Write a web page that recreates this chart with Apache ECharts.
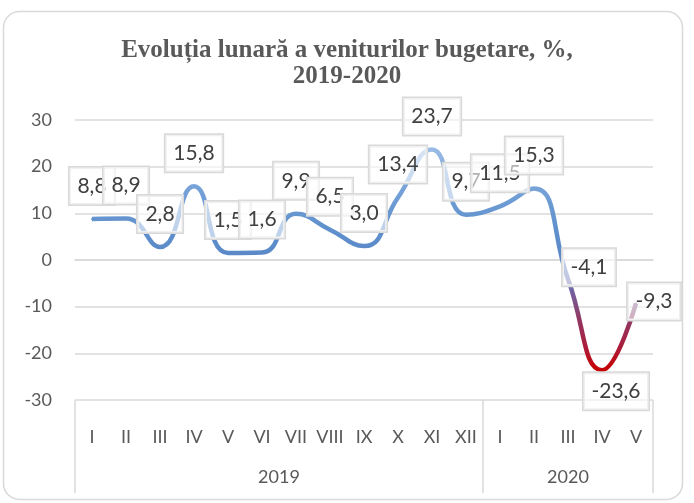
<!DOCTYPE html>
<html>
<head>
<meta charset="utf-8">
<script src="https://cdn.jsdelivr.net/npm/echarts@6/dist/echarts.min.js"></script>
<style>
html,body{margin:0;padding:0;background:#fff;}
#c{width:694px;height:503px;}
</style>
</head>
<body>
<div id="c"></div>
<script>
const titleText = 'Evoluția lunară a veniturilor bugetare, %,\n2019-2020';
const months = ['I','II','III','IV','V','VI','VII','VIII','IX','X','XI','XII','I','II','III','IV','V'];
const values = [8.8, 8.9, 2.8, 15.8, 1.5, 1.6, 9.9, 6.5, 3.0, 13.4, 23.7, 9.7, 11.5, 15.3, -4.1, -23.6, -9.3];
const years = ['2019', '2020'];
const monthsPerYear = [12, 5];
const yTicks = { min: -30, max: 30, interval: 10 };

// year boundaries and centres on a 0..N value scale
const yearBounds = [0];
monthsPerYear.forEach(n => yearBounds.push(yearBounds[yearBounds.length - 1] + n));
const yearCentres = years.map((y, i) => (yearBounds[i] + yearBounds[i + 1]) / 2);

// label offsets (styling only)
const defaultOffset = [0, -33];
const specialOffsets = { 14: [21, -12], 15: [14, 21], 16: [18, -2] };

const chart = echarts.init(document.getElementById('c'), null, { renderer: 'canvas' });
const gridColor = '#d9d9d9';
const textColor = '#595959';

chart.setOption({
  backgroundColor: '#ffffff',
  animation: false,
  title: {
    text: titleText,
    left: 'center',
    top: 33,
    textStyle: {
      fontFamily: 'Liberation Serif',
      fontSize: 25,
      fontWeight: 'bold',
      color: textColor,
      lineHeight: 26
    }
  },
  graphic: [{
    type: 'rect',
    shape: { x: 3.5, y: 11.5, width: 679, height: 488, r: 16 },
    style: { fill: 'none', stroke: gridColor, lineWidth: 1.5 },
    silent: true,
    z: -10
  }],
  grid: { left: 75, right: 41, top: 120, bottom: 103, containLabel: false },
  xAxis: [{
    type: 'category',
    data: months,
    boundaryGap: true,
    axisLine: { show: true, lineStyle: { color: gridColor, width: 1.5 } },
    axisTick: { show: false },
    axisLabel: { color: textColor, fontFamily: 'Lato', fontSize: 18, margin: 28, interval: 0 },
    splitLine: { show: false }
  }, {
    type: 'value',
    position: 'bottom',
    min: 0,
    max: yearBounds[yearBounds.length - 1],
    axisLine: { show: false },
    axisTick: {
      show: true,
      customValues: yearBounds,
      length: 93,
      lineStyle: { color: gridColor, width: 1.5 }
    },
    axisLabel: {
      show: true,
      customValues: yearCentres,
      formatter: function (v) {
        const i = yearCentres.indexOf(v);
        return i >= 0 ? years[i] : '';
      },
      color: textColor,
      fontFamily: 'Lato',
      fontSize: 18,
      margin: 68
    },
    splitLine: { show: false }
  }],
  yAxis: {
    type: 'value',
    min: yTicks.min,
    max: yTicks.max,
    interval: yTicks.interval,
    axisLine: { show: false },
    axisTick: { show: false },
    axisLabel: { color: textColor, fontFamily: 'Lato', fontSize: 18, margin: 23 },
    splitLine: { show: true, lineStyle: { color: gridColor, width: 1.5 } }
  },
  visualMap: {
    show: false,
    type: 'continuous',
    seriesIndex: 0,
    dimension: 1,
    min: -24,
    max: 24,
    inRange: {
      color: ['#c80000', '#a82040', '#8d3c68', '#6f68a8', '#5b88c8', '#5f8fcc', '#6b9ad3', '#80a9dc', '#9abbe4']
    }
  },
  series: [{
    type: 'line',
    xAxisIndex: 0,
    smooth: true,
    symbol: 'circle',
    symbolSize: 2,
    showSymbol: true,
    lineStyle: { width: 4.5 },
    data: values.map((v, i) => ({
      value: v,
      label: { offset: specialOffsets[i] || defaultOffset }
    })),
    label: {
      show: true,
      position: 'inside',
      formatter: p => String(p.value.toFixed(1)).replace('.', ','),
      fontFamily: 'Lato',
      fontSize: 21,
      lineHeight: 24,
      color: '#404040',
      backgroundColor: 'rgba(255,255,255,0.6)',
      borderColor: gridColor,
      borderWidth: 1.5,
      padding: [7, 8, 6, 8]
    },
    z: 2
  }]
});
</script>
</body>
</html>
